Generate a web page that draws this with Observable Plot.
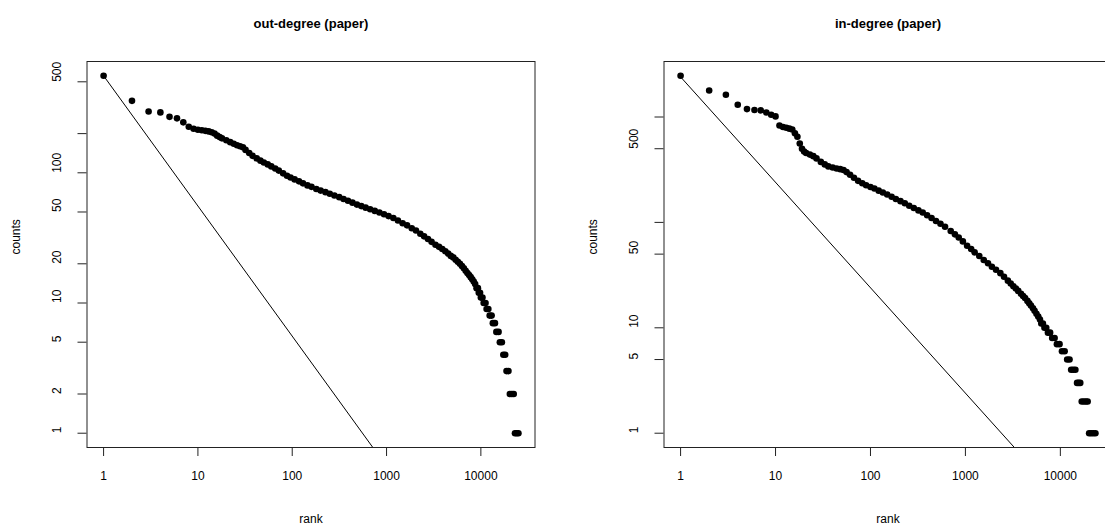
<!DOCTYPE html>
<html><head><meta charset="utf-8">
<script src="https://cdn.jsdelivr.net/npm/d3@7"></script>
<script src="https://cdn.jsdelivr.net/npm/@observablehq/plot@0.6"></script>
<style>
html,body{margin:0;padding:0;background:#fff;overflow:hidden;}
#wrap{position:relative;width:1105px;height:531px;overflow:hidden;background:#fff;}
.panel{position:absolute;top:0;height:531px;}
.panel svg{max-width:none !important;display:block;}
</style>
</head><body>
<div id="wrap"><div class="panel" id="left" style="left:0px;width:553px"></div><div class="panel" id="right" style="left:553px;width:579px"></div></div>
<script>
// ---------- data: out-degree (paper) ----------
const outTitle = "out-degree (paper)";
const outRank = [1,2,3,4,5,6,7,8,9,10,11,12,13,14,15,16,17,18,20,22,24,26,28,30,32,35,38,42,46,50,55,60,66,72,80,88,96,106,118,130,145,160,180,200,225,250,280,315,350,390,435,485,540,600,670,750,840,940,1050,1180,1320,1480,1650,1850,2050,2280,2500,2750,3000,3300,3600,3900,4200,4500,4800,5100,5400,5700,6000,6300,6600,6900,7200,7500,7800,8100,8400,8700,
  9000,9300,9500,9800,10000,10400,10700,11200,11500,12000,12400,13000,13400,14100,14600,15400,15900,16700,17300,18100,18700,19600,20300,21300,22300,23000,24000,25000];
const outCount = [556,357,296,291,269,262,244,226,218,214,212,210,208,205,200,193,188,184,178,172,167,163,160,157,150,142,135,129,124,120,116,112,108,104,99,95,92,89,86,83,80,78,75,73,71,69,67,65,63,61,59,57,55.5,54,52.5,51,49.5,48,46.5,45,43,41,39.5,37.5,36,34,32.5,31,29.5,28,27,26,25,24,23,22.4,21.5,20.7,20,19.2,18.5,17.7,17,16.4,15.8,15.2,14.6,14,
  13,13,12,12,11,11,10,10,9,9,8,8,7,7,6,6,5,5,4,4,3,3,2,2,2,1,1,1];
const outFitRank = [1, 1000];
const outFitCount = [556, 0.556];
const outXTicks = [1,10,100,1000,10000];
const outXLabels = ["1","10","100","1000","10000"];
const outYTicks = [1,2,5,10,20,50,100,200,500];
const outYLabels = ["1","2","5","10","20","50","100","","500"];

// ---------- data: in-degree (paper) ----------
const inTitle = "in-degree (paper)";
const inRank = [1,2,3,4,5,6,7,8,9,10,11,12,13,14,15,16,17,18,19,20,21,23,25,27,30,33,36,40,44,48,52,56,61,67,74,82,90,100,110,122,135,150,167,185,207,230,256,286,320,355,395,440,490,546,610,700,775,850,940,1042,1150,1250,1400,1560,1730,1900,2100,2335,2550,2800,3000,3200,3400,3600,3850,4050,4250,4500,4700,4900,5150,5350,5600,5850,6100,
  6300,6550,6800,7100,7400,7800,8200,8700,9200,9800,10400,11100,11800,12500,13000,13700,14400,15000,15600,16200,16800,17700,18600,19400,20100,21100,22200,23400];
const inCount = [2460,1786,1626,1307,1188,1165,1155,1105,1050,1013,830,805,790,775,760,700,650,560,500,470,455,440,425,405,375,355,340,332,325,320,314,300,283,265,248,235,225,217,210,200,192,184,175,167,159,152,144,137,130,124,117,110,103,97,91,83,77,72,66,60,56,52,48,44,41,38,35.5,33,30.5,28,26.3,24.8,23.6,22.4,21,20,19.2,18,17.1,16.3,15.3,14.5,13.6,12.8,12,
  11,11,10,10,9,9,8,8,7,7,6,6,5,5,4,4,4,3,3,3,2,2,2,2,1,1,1,1];
const inFitRank = [1, 10000];
const inFitCount = [2400, 0.24];
const inXTicks = [1,10,100,1000,10000];
const inXLabels = ["1","10","100","1000","10000"];
const inYTicks = [1,5,10,50,100,500,1000];
const inYLabels = ["1","5","10","50","","500",""];

const FONT = "'Liberation Sans', Arial, Helvetica, sans-serif";

function panel(o) {
  const pts = o.rank.map((r, i) => ({rank: r, count: o.count[i]}));
  const fit = o.fitRank.map((r, i) => ({rank: r, count: o.fitCount[i]}));
  const x0 = Math.log10(d3.min(o.rank)), Lx = Math.log10(d3.max(o.rank)) - x0;
  const y0 = Math.log10(d3.min(o.count)), Ly = Math.log10(d3.max(o.count)) - y0;
  const xDom = [10 ** (x0 - 0.04 * Lx), 10 ** (x0 + 1.04 * Lx)];
  const yDom = [10 ** (y0 - 0.04 * Ly), 10 ** (y0 + 1.04 * Ly)];
  const marks = [
    Plot.line(fit, {x: "rank", y: "count", stroke: "black", strokeWidth: 1, clip: true}),
    Plot.dot(pts, {x: "rank", y: "count", r: 3.3, fill: "black", stroke: null}),
    Plot.frame({stroke: "#222"}),
    Plot.axisX({ticks: o.xTicks, tickSize: 9, tickFormat: () => "", label: null, anchor: "bottom", stroke: "#222"}),
    Plot.axisY({ticks: o.yTicks, tickSize: 9, tickFormat: () => "", label: null, anchor: "left", stroke: "#222"}),
    Plot.text(o.xTicks, {x: d => d, text: (d, i) => o.xLabels[i], frameAnchor: "bottom", dy: 32, fontSize: 12, fill: "black"}),
    Plot.text(o.yTicks, {y: d => d, text: (d, i) => o.yLabels[i], frameAnchor: "left", dx: -30, rotate: -90, fontSize: 12, fill: "black"}),
    Plot.text([o.title], {text: d => d, frameAnchor: "top", dy: -43, fontSize: 13, fontWeight: "bold", fill: "black"}),
    Plot.text(["rank"], {text: d => d, frameAnchor: "bottom", dy: 75, fontSize: 12, fill: "black"}),
    Plot.text(["counts"], {text: d => d, frameAnchor: "left", dx: -71, rotate: -90, fontSize: 12, fill: "black"})
  ];
  return Plot.plot({
    width: o.width, height: 531,
    marginTop: 61, marginBottom: 84, marginLeft: o.marginLeft, marginRight: o.marginRight,
    x: {type: "log", domain: xDom},
    y: {type: "log", domain: yDom},
    style: {fontFamily: FONT, fontSize: "12px", background: "white", color: "black", maxWidth: "none"},
    marks
  });
}

document.getElementById("left").appendChild(panel({
  title: outTitle, rank: outRank, count: outCount, fitRank: outFitRank, fitCount: outFitCount,
  xTicks: outXTicks, xLabels: outXLabels, yTicks: outYTicks, yLabels: outYLabels,
  width: 553, marginLeft: 86.5, marginRight: 18.5
}));
document.getElementById("right").appendChild(panel({
  title: inTitle, rank: inRank, count: inCount, fitRank: inFitRank, fitCount: inFitCount,
  xTicks: inXTicks, xLabels: inXLabels, yTicks: inYTicks, yLabels: inYLabels,
  width: 579, marginLeft: 110.5, marginRight: 20.5
}));
</script>
</body></html>
